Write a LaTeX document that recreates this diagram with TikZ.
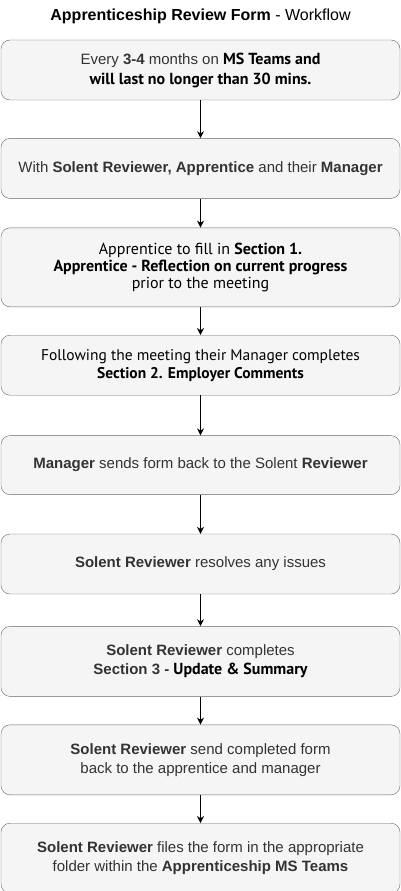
\documentclass[tikz,border=0pt]{standalone}
\usepackage{fontspec}
\setmainfont{Liberation Sans}
\newfontfamily\humfont{PT Sans}
\usetikzlibrary{positioning,arrows.meta}
\definecolor{boxfill}{HTML}{F5F5F5}
\definecolor{boxline}{HTML}{666666}
\definecolor{boxtext}{HTML}{333333}
\newcommand{\hum}[1]{{\humfont\fontsize{16}{19}\selectfont\color{black}#1}}
\begin{document}
\begin{tikzpicture}
  [
    x = 1pt, y = 1pt,
    every node/.style = {font=\fontsize{15}{19}\selectfont},
    stepbox/.style    = {shape=rectangle, rounded corners=9pt,
                         draw=boxline, fill=boxfill, text=boxtext,
                         align=center, minimum width=399pt, inner sep=0pt},
    humbox/.style     = {stepbox, text=black, font=\humfont\fontsize{16}{17}\selectfont},
    flow/.style       = {draw, line width=0.8pt, -{Stealth[length=7pt,width=7pt]}}
  ]
  \useasboundingbox (0,0) rectangle (401,-891);
  \node (title) at (200.5,-16) {\fontsize{16}{18}\selectfont\textbf{Apprenticeship Review Form} - Workflow};
  \node [stepbox, minimum height=60pt, font=\fontsize{15}{20}\selectfont] (every) at (200.5,-70)
    {Every \textbf{3-4} months on \hum{\bfseries MS Teams and}\\ \hum{\bfseries will last no longer than 30 mins.}};
  \node [stepbox, minimum height=60pt, below=38pt of every] (with)
    {With \textbf{Solent Reviewer, Apprentice} and their \textbf{Manager}};
  \node [humbox, minimum height=79pt, below=29pt of with] (sec1)
    {Apprentice to fill in \textbf{Section 1.}\\ \textbf{Apprentice - Reflection on current progress}\\ prior to the meeting};
  \node [humbox, minimum height=60pt, below=28pt of sec1, font=\humfont\fontsize{15.5}{18}\selectfont] (sec2)
    {Following the meeting their Manager completes\\ \textbf{Section 2. Employer Comments}};
  \node [stepbox, minimum height=59pt, below=40pt of sec2] (sends)
    {\textbf{Manager} sends form back to the Solent \textbf{Reviewer}};
  \node [stepbox, minimum height=60pt, below=39pt of sends] (resolves)
    {\textbf{Solent Reviewer} resolves any issues};
  \node [stepbox, minimum height=70pt, below=32pt of resolves] (sec3)
    {\textbf{Solent Reviewer} completes\\ \textbf{Section 3 -} \hum{\bfseries Update \& Summary}};
  \node [stepbox, minimum height=70pt, below=28pt of sec3] (back)
    {\textbf{Solent Reviewer} send completed form\\ back to the apprentice and manager};
  \node [stepbox, minimum height=70pt, below=28pt of back] (files)
    {\textbf{Solent Reviewer} files the form in the appropriate\\ folder within the \textbf{Apprenticeship MS Teams}};
  % arrows between the steps
  \draw [flow] (every) -- (with);
  \draw [flow] (with) -- (sec1);
  \draw [flow] (sec1) -- (sec2);
  \draw [flow] (sec2) -- (sends);
  \draw [flow] (sends) -- (resolves);
  \draw [flow] (resolves) -- (sec3);
  \draw [flow] (sec3) -- (back);
  \draw [flow] (back) -- (files);
\end{tikzpicture}
\end{document}
